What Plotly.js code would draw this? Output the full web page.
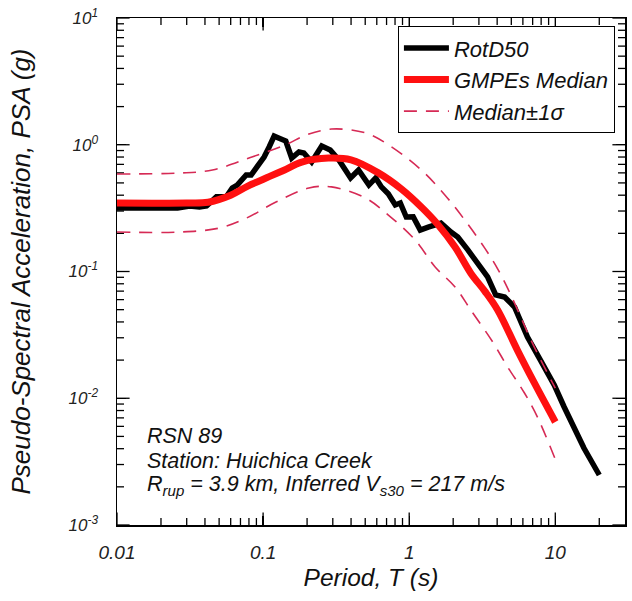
<!DOCTYPE html>
<html>
<head>
<meta charset="utf-8">
<script src="https://cdn.plot.ly/plotly-3.0.1.min.js"></script>
<style>html,body{margin:0;padding:0;background:#fff;}#chart{width:632px;height:601px;}</style>
</head>
<body>
<div id="chart"></div>
<script>
// RotD50 recorded spectrum
const periodRot = [0.01,0.026,0.0314,0.0367,0.041,0.0479,0.056,0.0615,0.0665,0.0708,0.0766,0.0828,0.091,0.1016,0.110,0.119,0.1325,0.143,0.157,0.176,0.190,0.215,0.252,0.288,0.33,0.397,0.45,0.53,0.59,0.645,0.719,0.803,0.869,0.955,1.065,1.19,1.35,1.5,1.65,1.93,2.15,2.52,2.94,3.44,3.91,4.5,5.26,6.45,7.91,9.84,11.5,15.7,20];
const rotD50 = [0.317,0.317,0.329,0.323,0.329,0.388,0.388,0.456,0.481,0.518,0.577,0.577,0.667,0.800,0.960,1.17,1.11,1.07,0.786,0.877,0.861,0.731,0.977,0.91,0.759,0.547,0.632,0.481,0.547,0.465,0.410,0.335,0.347,0.269,0.270,0.212,0.224,0.233,0.241,0.205,0.187,0.148,0.117,0.0905,0.0653,0.0629,0.0525,0.0304,0.0200,0.0127,0.00853,0.00405,0.00248];

// GMPEs median
const periodMed = [0.01,0.03,0.042,0.06,0.078,0.11,0.139,0.184,0.28,0.40,0.615,0.88,1.21,1.57,2.06,2.64,3.29,4.03,5.5,7.19,10];
const medianPSA = [0.347,0.347,0.352,0.40,0.47,0.56,0.63,0.73,0.785,0.76,0.60,0.45,0.323,0.235,0.156,0.097,0.0700,0.0497,0.024,0.0132,0.0065];

// Median + 1 sigma
const periodUp = [0.01,0.027,0.045,0.080,0.143,0.196,0.294,0.502,0.72,1.21,1.76,2.40,3.29,4.03,4.94,7.0,10];
const upperPSA = [0.588,0.598,0.632,0.786,1.0,1.19,1.33,1.24,1.0,0.632,0.40,0.255,0.153,0.105,0.0660,0.027,0.012];

// Median - 1 sigma
const periodLo = [0.01,0.027,0.050,0.077,0.1225,0.206,0.294,0.502,0.72,1.1,1.50,2.06,2.64,3.73,4.71,6.15,7.55,10];
const lowerPSA = [0.205,0.205,0.22,0.264,0.353,0.456,0.465,0.38,0.279,0.177,0.109,0.0755,0.0497,0.0278,0.0177,0.011,0.0071,0.0033];

const xTickVals = [0.01,0.1,1,10];
const xTickText = ['0.01','0.1','1','10'];
const yTickVals = [0.001,0.01,0.1,1,10];
const yTickText = ['10<sup>-3</sup>','10<sup>-2</sup>','10<sup>-1</sup>','10<sup>0</sup>','10<sup>1</sup>'];

// minor tick positions: 2..9 within each decade
function minorTicks(lo, hi, maxVal) {
  const out = [];
  for (let d = lo; d < hi; d++) for (let k = 2; k <= 9; k++) {
    const v = k * Math.pow(10, d);
    if (v < maxVal) out.push(v);
  }
  return out;
}

const FONT = 'Arial, "Liberation Sans", sans-serif';
const dashColor = '#d62a55';
const xRange = [-2, Math.log10(30)];
const yRange = [-3, 1];
const xMin = Math.pow(10, xRange[0]), xMax = Math.pow(10, xRange[1]);
const yMin = Math.pow(10, yRange[0]), yMax = Math.pow(10, yRange[1]);

// tick marks as clipped marker glyphs sitting on the four frame edges
const xMinor = minorTicks(-2, 2, 29), yMinor = minorTicks(-3, 1, 10);
function edgeTicks(xs, ys, symbol, size) {
  return {x: xs, y: ys, mode: 'markers', showlegend: false, hoverinfo: 'skip', cliponaxis: true,
    marker: {symbol: symbol, size: size, color: '#000', line: {color: '#000', width: 1.3}}};
}
const tickTraces = [
  edgeTicks(xTickVals.concat(xTickVals), xTickVals.map(() => yMin).concat(xTickVals.map(() => yMax)), 'line-ns', 18),
  edgeTicks(xMinor.concat(xMinor), xMinor.map(() => yMin).concat(xMinor.map(() => yMax)), 'line-ns', 10),
  edgeTicks(yTickVals.map(() => xMin).concat(yTickVals.map(() => xMax)), yTickVals.concat(yTickVals), 'line-ew', 18),
  edgeTicks(yMinor.map(() => xMin).concat(yMinor.map(() => xMax)), yMinor.concat(yMinor), 'line-ew', 10)
];

const traces = tickTraces.concat([
  {x: periodRot, y: rotD50, mode: 'lines', name: 'RotD50', line: {color: '#000', width: 5.5}},
  {x: periodMed, y: medianPSA, mode: 'lines', name: 'GMPEs Median', line: {color: '#ff1010', width: 7, shape: 'spline'}},
  {x: periodUp, y: upperPSA, mode: 'lines', name: 'Median\u00b11\u03c3', legendgroup: 'sig', line: {color: dashColor, width: 1.6, dash: '13px,9px', shape: 'spline'}},
  {x: periodLo, y: lowerPSA, mode: 'lines', name: 'lower', legendgroup: 'sig', showlegend: false, line: {color: dashColor, width: 1.6, dash: '13px,9px', shape: 'spline'}}
]);

const layout = {
  width: 632, height: 601,
  margin: {l: 117, r: 7, t: 18, b: 76},
  paper_bgcolor: '#fff', plot_bgcolor: '#fff',
  font: {family: FONT, color: '#111'},
  showlegend: true,
  legend: {
    x: 0.553, y: 0.984, xanchor: 'left', yanchor: 'top',
    bgcolor: '#fff', bordercolor: '#000', borderwidth: 1,
    font: {family: FONT, size: 22, style: 'italic', color: '#111'},
    itemwidth: 45,
    tracegroupgap: 0
  },
  xaxis: {
    type: 'log', range: xRange,
    showline: true, linecolor: '#000', linewidth: 1.5, mirror: 'allticks',
    ticks: 'inside', ticklen: 9, tickwidth: 1.3, tickcolor: '#000',
    showgrid: false, zeroline: false,
    tickmode: 'array', tickvals: xTickVals, ticktext: xTickText,
    tickfont: {family: FONT, size: 19, style: 'italic', color: '#222'},
    ticklabelstandoff: 10,
    title: {text: 'Period, <i>T</i> (s)', font: {family: FONT, size: 24.5, style: 'italic', color: '#111'}, standoff: 6}
  },
  yaxis: {
    type: 'log', range: yRange,
    showline: true, linecolor: '#000', linewidth: 1.5, mirror: 'allticks',
    ticks: 'inside', ticklen: 9, tickwidth: 1.3, tickcolor: '#000',
    showgrid: false, zeroline: false,
    tickmode: 'array', tickvals: yTickVals, ticktext: yTickText,
    tickfont: {family: FONT, size: 17, style: 'italic', color: '#222'},
    ticklabelstandoff: 14,
    title: {text: 'Pseudo-Spectral Acceleration, PSA (g)', font: {family: FONT, size: 26, style: 'italic', color: '#111'}, standoff: 30}
  },
  annotations: [
    {xref: 'paper', yref: 'paper', x: 0.055, y: 0.176, xanchor: 'left', yanchor: 'middle', showarrow: false, text: 'RSN 89', font: {family: FONT, size: 21.5, style: 'italic', color: '#111'}},
    {xref: 'paper', yref: 'paper', x: 0.055, y: 0.127, xanchor: 'left', yanchor: 'middle', showarrow: false, text: 'Station: Huichica Creek', font: {family: FONT, size: 21.5, style: 'italic', color: '#111'}},
    {xref: 'paper', yref: 'paper', x: 0.055, y: 0.078, xanchor: 'left', yanchor: 'middle', showarrow: false, text: 'R<sub>rup</sub> = 3.9 km, Inferred V<sub>s30</sub> = 217 m/s', font: {family: FONT, size: 21.5, style: 'italic', color: '#111'}}
  ]
};

Plotly.newPlot('chart', traces, layout, {displayModeBar: false, staticPlot: true});
</script>
</body>
</html>
